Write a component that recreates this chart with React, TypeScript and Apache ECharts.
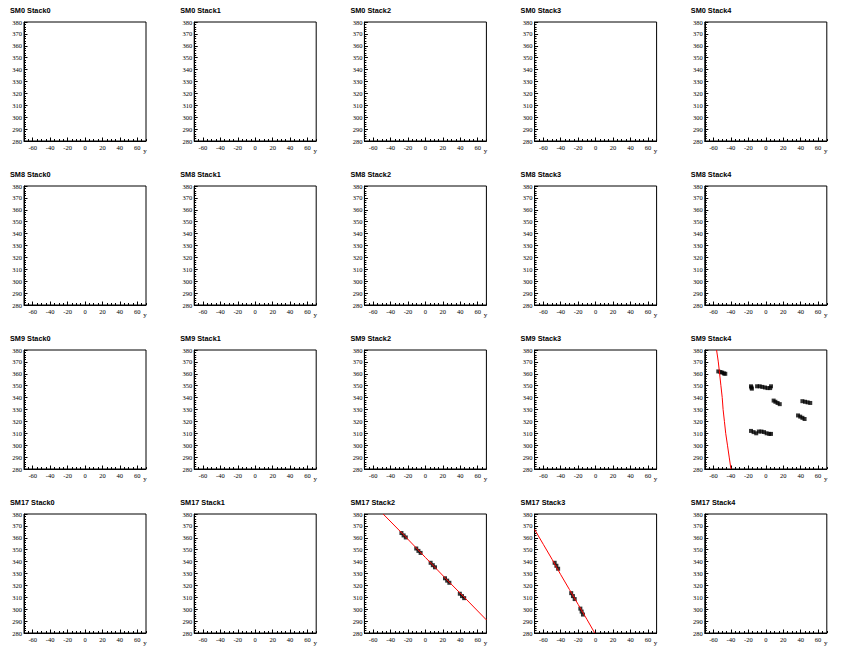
import React, { useEffect, useRef } from "react";
import * as echarts from "echarts";

// ---- data ----
const moduleNames = ["SM0", "SM8", "SM9", "SM17"];
const stackNames = ["Stack0", "Stack1", "Stack2", "Stack3", "Stack4"];
const xRange = [-70, 70];
const yRange = [280, 380];
const xLabelValues = [-60, -40, -20, 0, 20, 40, 60];
const xAxisTitle = "y";

// SM9 Stack4 hits [x, y]
const sm9s4Hits: number[][] = [
  [-54.5, 362], [-52, 361.5], [-50, 361], [-48, 360.3], [-46.5, 360],
  [-17, 349.5], [-16.5, 348.5], [-16, 347.5],
  [-10, 349.5], [-7, 349.5], [-4, 349], [-1, 348.5], [2, 348], [5, 348], [6, 349.5],
  [9, 337.5], [11, 336.5], [13.5, 335.5], [16, 334.5],
  [42, 337], [45, 336.5], [48, 336], [51, 335.5],
  [37, 325], [39.5, 324], [42, 323], [44.5, 322],
  [-17, 312], [-14, 311], [-11, 310], [-8, 311.5], [-5, 311.5], [-2, 311], [1, 310], [4, 309.5], [6, 309.5],
];
const sm9s4Track: number[][] = [
  [-56.5, 380], [-54.5, 370], [-53, 360], [-51.5, 350], [-50, 340], [-49, 330],
  [-47.5, 320], [-46, 310], [-44, 300], [-42, 290], [-40, 280],
];

// SM17 Stack2
const sm17s2Hits: number[][] = [
  [-27.5, 364], [-25, 362], [-22.5, 360.3],
  [-10.5, 351], [-8, 349], [-5.5, 347.3],
  [6, 339], [8.5, 337], [11, 335.2],
  [22.5, 326], [25, 324], [27.5, 322.2],
  [39.5, 313], [42, 311], [44.5, 309.3],
];
const sm17s2Track: number[][] = [
  [-48.5, 380], [-25, 362.5], [0, 343.5], [25, 324.5], [50, 306], [70, 291],
];

// SM17 Stack3
const sm17s3Hits: number[][] = [
  [-47, 339], [-45, 336.5], [-43, 334],
  [-28, 313.5], [-26, 311], [-24, 308.5],
  [-17.5, 300.5], [-16, 298], [-14.5, 295.5],
];
const sm17s3Track: number[][] = [
  [-70, 367], [-60, 354.5], [-50, 342], [-40, 329], [-30, 316.5], [-20, 304], [-10, 291.5], [-1, 280],
];

const panelData: Record<string, { hits: number[][]; track: number[][] }> = {
  "SM9 Stack4": { hits: sm9s4Hits, track: sm9s4Track },
  "SM17 Stack2": { hits: sm17s2Hits, track: sm17s2Track },
  "SM17 Stack3": { hits: sm17s3Hits, track: sm17s3Track },
};

// ---- layout ----
const PAD_W = 851 / 5;
const PAD_H = 164;
const FRAME_L = 24;
const FRAME_T = 22;
const FRAME_W = 122;
const FRAME_H = 119;
const SERIF = "Liberation Serif";
const SANS = "Liberation Sans";

export default function App() {
  const ref = useRef<HTMLDivElement>(null);
  useEffect(() => {
    if (!ref.current) return;
    const chart = echarts.init(ref.current, null, { renderer: "svg" });
    const grid: any[] = [];
    const xAxis: any[] = [];
    const yAxis: any[] = [];
    const series: any[] = [];
    const graphic: any[] = [];
    moduleNames.forEach((m, r) => {
      stackNames.forEach((s, c) => {
        const i = r * 5 + c;
        const left = c * PAD_W + FRAME_L;
        const top = r * PAD_H + FRAME_T;
        grid.push({
          left, top, width: FRAME_W, height: FRAME_H,
          show: true, borderColor: "#000", borderWidth: 1, backgroundColor: "transparent",
        });
        xAxis.push({
          type: "value", gridIndex: i, min: xRange[0], max: xRange[1], interval: 5,
          position: "bottom",
          axisLine: { show: true, onZero: false, lineStyle: { color: "#000", width: 1 } },
          axisTick: { show: true, inside: true, length: 2, lineStyle: { color: "#000", width: 1 } },
          axisLabel: { show: false },
          splitLine: { show: false },
        });
        xAxis.push({
          type: "value", gridIndex: i, min: xRange[0], max: xRange[1],
          position: "bottom",
          axisLine: { show: false, onZero: false },
          axisTick: { show: true, inside: true, length: 3.5, customValues: xLabelValues, lineStyle: { color: "#000", width: 1 } },
          axisLabel: { show: true, customValues: xLabelValues, fontFamily: SERIF, fontSize: 6.5, color: "#000", margin: 3 },
          splitLine: { show: false },
        });
        yAxis.push({
          type: "value", gridIndex: i, min: yRange[0], max: yRange[1], interval: 10,
          axisLine: { show: true, onZero: false, lineStyle: { color: "#000", width: 1 } },
          axisTick: { show: true, inside: true, length: 3.5, lineStyle: { color: "#000", width: 1 } },
          minorTick: { show: true, splitNumber: 5, length: 2, lineStyle: { color: "#000", width: 1 } },
          axisLabel: { show: true, fontFamily: SERIF, fontSize: 6.5, color: "#000", margin: 2 },
          splitLine: { show: false },
          minorSplitLine: { show: false },
        });
        const title = `${m} ${s}`;
        graphic.push({
          type: "text", x: c * PAD_W + 10, y: r * PAD_H + 10,
          style: { text: title, fontFamily: SANS, fontWeight: "bold", fontSize: 7.3, fill: "#000", verticalAlign: "middle", align: "left" },
        });
        graphic.push({
          type: "text", x: c * PAD_W + 145, y: r * PAD_H + 151,
          style: { text: xAxisTitle, fontFamily: SERIF, fontSize: 7, fill: "#000", verticalAlign: "middle", align: "center" },
        });
        const d = panelData[title];
        if (d) {
          series.push({
            type: "scatter", xAxisIndex: 2 * i, yAxisIndex: i, data: d.hits,
            symbol: "rect", symbolSize: 4, itemStyle: { color: "#000" }, clip: true, z: 2,
          });
          series.push({
            type: "line", xAxisIndex: 2 * i, yAxisIndex: i, data: d.track,
            symbol: "none", lineStyle: { color: "#ff0000", width: 1 }, clip: true, z: 3,
          });
        }
      });
    });
    chart.setOption({
      animation: false,
      backgroundColor: "#fff",
      grid, xAxis, yAxis, series, graphic,
    });
    return () => chart.dispose();
  }, []);
  return (
    <div
      ref={ref}
      style={{ position: "absolute", left: 0, top: 0, width: 851, height: 656, background: "#fff" }}
    />
  );
}
